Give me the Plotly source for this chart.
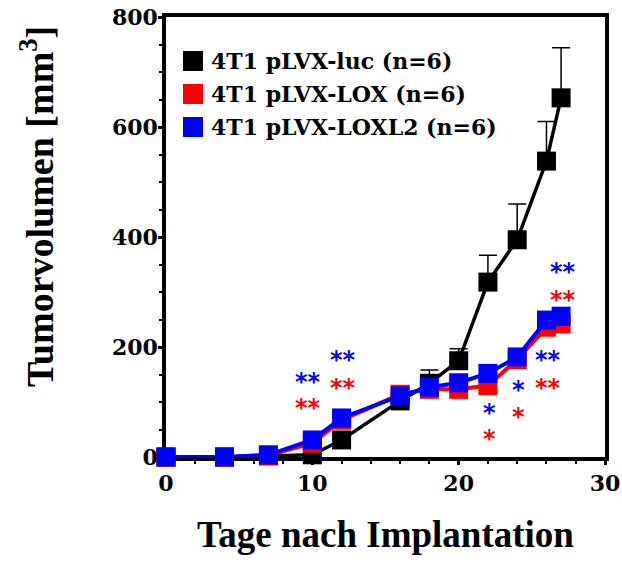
import plotly.graph_objects as go

# ---- data ----
days = [0, 4, 7, 10, 12, 16, 18, 20, 22, 24, 26, 27]
luc = [0, 0, 2, 4, 31, 102, 134, 175, 318, 395, 538, 653]
luc_err = [0, 0, 1, 2, 8, 10, 24, 22, 49, 65, 72, 91]
lox = [0, 0, 3, 25, 67, 114, 123, 123, 130, 177, 236, 242]
loxl2 = [0, 0, 4, 31, 71, 111, 127, 135, 152, 182, 249, 256]

series_names = ["4T1 pLVX-luc (n=6)", "4T1 pLVX-LOX (n=6)", "4T1 pLVX-LOXL2 (n=6)"]
series_colors = ["#000000", "#FF0000", "#0000FF"]

sig_x = [9.7, 9.7, 12.1, 12.1, 22.1, 22.1, 24.1, 24.1, 26.1, 26.1, 27.1, 27.1]
sig_y = [145, 98, 185, 135, 89, 42, 131, 82, 185, 135, 345, 295]
sig_text = ["**", "**", "**", "**", "*", "*", "*", "*", "**", "**", "**", "**"]
sig_series = [2, 1, 2, 1, 2, 1, 2, 1, 2, 1, 2, 1]

x_ticks = [0, 10, 20, 30]
y_ticks = [0, 200, 400, 600, 800]

# ---- layout geometry ----
W, H = 622, 569
L, R, T, B = 166, 17, 17, 112
PW, PH = W - L - R, H - T - B

def px_x(px):
    return (px - L) / PW

def px_y(py):
    return (H - B - py) / PH

serif = "Liberation Serif"
wide_serif = "DejaVu Serif"

fig = go.Figure()

fig.add_trace(go.Scatter(
    x=days, y=luc, mode="lines+markers", name=series_names[0],
    line=dict(color=series_colors[0], width=3.5),
    marker=dict(symbol="square", size=19, color=series_colors[0]),
    error_y=dict(type="data", array=luc_err, arrayminus=[0] * len(luc_err),
                 symmetric=False, color=series_colors[0], thickness=1.5, width=9),
    cliponaxis=False, showlegend=False))
fig.add_trace(go.Scatter(
    x=days, y=lox, mode="lines+markers", name=series_names[1],
    line=dict(color=series_colors[1], width=4),
    marker=dict(symbol="square", size=19, color=series_colors[1]),
    cliponaxis=False, showlegend=False))
fig.add_trace(go.Scatter(
    x=days, y=loxl2, mode="lines+markers", name=series_names[2],
    line=dict(color=series_colors[2], width=4),
    marker=dict(symbol="square", size=19, color=series_colors[2]),
    cliponaxis=False, showlegend=False))

annotations = []
shapes = []

# legend
leg_y = [61, 94, 127]
for name, col, yy in zip(series_names, series_colors, leg_y):
    shapes.append(dict(type="rect", xref="paper", yref="paper",
                       x0=px_x(183), x1=px_x(203), y0=px_y(yy + 10), y1=px_y(yy - 10),
                       fillcolor=col, line=dict(width=0)))
    annotations.append(dict(text=name, xref="paper", yref="paper",
                            x=px_x(209), y=px_y(yy), xanchor="left", yanchor="middle",
                            showarrow=False,
                            font=dict(family=wide_serif, size=22, color="black", weight="bold")))

# significance stars
for sx, sy, st, si in zip(sig_x, sig_y, sig_text, sig_series):
    annotations.append(dict(text=st, x=sx, y=sy, xref="x", yref="y",
                            xanchor="center", yanchor="middle", showarrow=False, yshift=-5,
                            font=dict(family="DejaVu Sans", size=24,
                                      color=series_colors[si], weight="bold")))

# axis titles
annotations.append(dict(text="Tage nach Implantation", xref="paper", yref="paper",
                        x=0.5, y=px_y(534), xanchor="center", yanchor="middle",
                        showarrow=False,
                        font=dict(family=serif, size=37, color="black", weight="bold")))
annotations.append(dict(text="Tumorvolumen [mm<sup>3</sup>]", xref="paper", yref="paper",
                        x=px_x(37), y=px_y(207), xanchor="center", yanchor="middle",
                        textangle=-90, showarrow=False,
                        font=dict(family=serif, size=38, color="black", weight="bold")))

axis_common = dict(showline=True, linecolor="black", linewidth=3.5, mirror=True,
                   ticks="outside", ticklen=4, tickwidth=2.5, tickcolor="black",
                   showgrid=False, zeroline=False, layer="below traces", automargin=False,
                   tickfont=dict(family=wide_serif, size=22, color="black", weight="bold"))

fig.update_layout(
    width=W, height=H,
    margin=dict(l=L, r=R, t=T, b=B, autoexpand=False),
    paper_bgcolor="white", plot_bgcolor="white",
    xaxis=dict(range=[0, 30], tickvals=x_ticks,
               minor=dict(dtick=2, ticks="outside", ticklen=3, tickwidth=2, tickcolor="black"),
               **axis_common),
    yaxis=dict(range=[0, 800], tickvals=y_ticks, ticklabelstandoff=-4,
               minor=dict(dtick=50, ticks="outside", ticklen=3, tickwidth=2, tickcolor="black"),
               **axis_common),
    annotations=annotations,
    shapes=shapes,
)

fig.write_html("out.html", config={"displayModeBar": False},
               post_script="document.body.style.margin='0';")
